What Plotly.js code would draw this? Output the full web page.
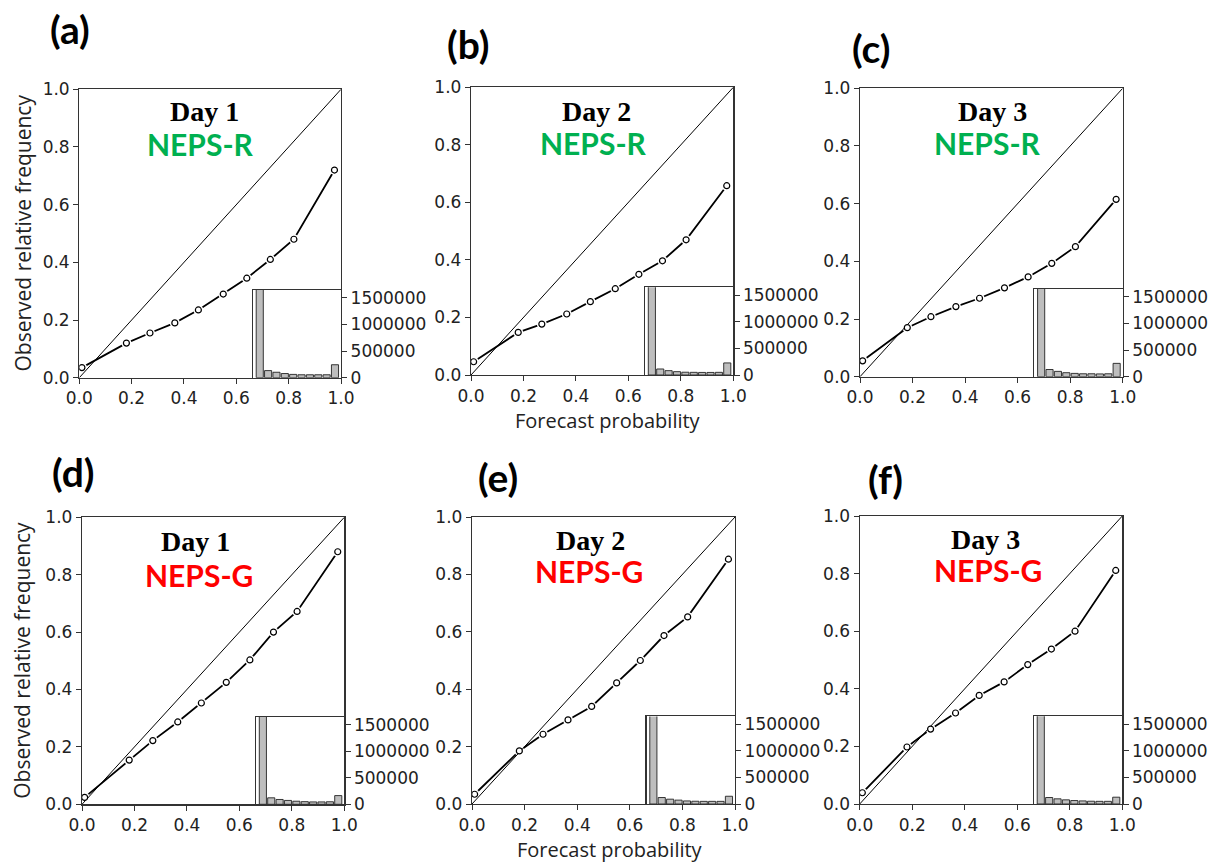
<!DOCTYPE html>
<html>
<head>
<meta charset="utf-8">
<script src="https://cdn.plot.ly/plotly-3.0.1.min.js"></script>
<style>
  html, body { margin: 0; padding: 0; background: #ffffff; }
  #chart { width: 1215px; height: 863px; }
</style>
</head>
<body>
<div id="chart"></div>
<script>
// Reliability diagrams: observed relative frequency vs forecast probability,
// with a forecast-count histogram inset for each panel.

const forecastProb = [0.01, 0.18, 0.27, 0.365, 0.455, 0.55, 0.64, 0.73, 0.82, 0.975];

const obsFreqRDay1 = [0.035, 0.12, 0.155, 0.19, 0.235, 0.29, 0.345, 0.41, 0.48, 0.72];
const obsFreqRDay2 = [0.046, 0.148, 0.177, 0.212, 0.255, 0.30, 0.35, 0.397, 0.47, 0.658];
const obsFreqRDay3 = [0.055, 0.17, 0.208, 0.243, 0.272, 0.308, 0.346, 0.393, 0.451, 0.615];
const obsFreqGDay1 = [0.024, 0.154, 0.222, 0.287, 0.353, 0.425, 0.503, 0.60, 0.672, 0.88];
const obsFreqGDay2 = [0.034, 0.185, 0.243, 0.293, 0.34, 0.422, 0.50, 0.587, 0.652, 0.853];
const obsFreqGDay3 = [0.039, 0.198, 0.26, 0.316, 0.377, 0.424, 0.484, 0.538, 0.60, 0.811];

const histBins = [1, 2, 3, 4, 5, 6, 7, 8, 9, 10];
const countsRDay1 = [1700000, 133000, 102000, 78000, 62000, 55000, 55000, 55000, 55000, 243000];
const countsRDay2 = [1700000, 113000, 82000, 63000, 52000, 50000, 48000, 48000, 50000, 227000];
const countsRDay3 = [1700000, 135000, 100000, 75000, 62000, 55000, 55000, 52000, 55000, 250000];
const countsGDay1 = [1700000, 122000, 91000, 73000, 58000, 50000, 45000, 45000, 48000, 164000];
const countsGDay2 = [1700000, 122000, 91000, 73000, 58000, 52000, 50000, 50000, 50000, 146000];
const countsGDay3 = [1700000, 122000, 97000, 78000, 65000, 58000, 52000, 50000, 50000, 128000];

const perfectLine = [0, 1];
const probTicks = [0, 0.2, 0.4, 0.6, 0.8, 1.0];
const countTicks = [0, 500000, 1000000, 1500000];

const panelLetters = ['(a)', '(b)', '(c)', '(d)', '(e)', '(f)'];
const dayLabels = ['Day 1', 'Day 2', 'Day 3', 'Day 1', 'Day 2', 'Day 3'];
const modelLabels = ['NEPS-R', 'NEPS-R', 'NEPS-R', 'NEPS-G', 'NEPS-G', 'NEPS-G'];
const xTitle = 'Forecast probability';
const yTitle = 'Observed relative frequency';

const obsSeries = [obsFreqRDay1, obsFreqRDay2, obsFreqRDay3, obsFreqGDay1, obsFreqGDay2, obsFreqGDay3];
const countSeries = [countsRDay1, countsRDay2, countsRDay3, countsGDay1, countsGDay2, countsGDay3];

// ---- page geometry (pixels) ----
const W = 1215, H = 863;
// [left, right, top, bottom] of each main plot area
const boxes = [
  [79.3, 341.0, 89.3, 377.7],
  [471.0, 733.3, 87.3, 375.0],
  [860.0, 1122.7, 88.3, 376.7],
  [82.0, 344.3, 517.3, 804.3],
  [472.0, 735.0, 517.0, 804.0],
  [859.7, 1122.3, 516.0, 804.0]
];
const insetLeftFrac = 0.664;
const insetTopFrac = 0.305;

const letterPos = [[70, 29], [468, 44], [871, 48], [73, 472], [498, 477], [885, 479]];
const dayPos = [[204, 111], [596, 111], [992, 111], [195, 541], [590, 540], [985, 539]];
const modelPos = [[200, 144], [593, 143], [987, 143], [199, 575], [589, 571], [988, 569.5]];
const modelColors = ['#00B050', '#00B050', '#00B050', '#FF0000', '#FF0000', '#FF0000'];

const px = v => v / W;
const py = v => 1 - v / H;

const axisColor = '#333333';
const tickFont = { family: 'DejaVu Sans', size: 17, color: '#222222' };

const traces = [];
const layout = {
  width: W, height: H,
  margin: { l: 0, r: 0, t: 0, b: 0 },
  paper_bgcolor: '#ffffff',
  plot_bgcolor: 'rgba(0,0,0,0)',
  showlegend: false,
  bargap: 0,
  annotations: []
};

boxes.forEach((b, i) => {
  const [l, r, t, btm] = b;
  const mainN = 2 * i + 1, insetN = 2 * i + 2;
  const mx = mainN === 1 ? 'x' : 'x' + mainN;
  const my = mainN === 1 ? 'y' : 'y' + mainN;
  const ix = 'x' + insetN, iy = 'y' + insetN;
  const mxKey = mainN === 1 ? 'xaxis' : 'xaxis' + mainN;
  const myKey = mainN === 1 ? 'yaxis' : 'yaxis' + mainN;

  const xDom = [px(l), px(r)];
  const yDom = [py(btm), py(t)];
  const insetL = l + insetLeftFrac * (r - l);
  const insetT = btm - insetTopFrac * (btm - t);

  const mainAxis = {
    range: [0, 1],
    tickvals: probTicks,
    tickformat: '.1f',
    ticks: 'outside', ticklen: 5, tickwidth: 1, tickcolor: axisColor,
    showline: true, mirror: true, linecolor: axisColor, linewidth: 1.2,
    showgrid: false, zeroline: false,
    tickfont: tickFont,
    fixedrange: true
  };
  layout[mxKey] = Object.assign({}, mainAxis, { domain: xDom, anchor: my });
  layout[myKey] = Object.assign({}, mainAxis, { domain: yDom, anchor: mx });

  layout['xaxis' + insetN] = {
    domain: [px(insetL), px(r)], anchor: iy,
    range: [0.2, 10.72],
    showline: true, mirror: true, linecolor: axisColor, linewidth: 1.2,
    showticklabels: false, ticks: '', showgrid: false, zeroline: false,
    fixedrange: true
  };
  layout['yaxis' + insetN] = {
    domain: [py(btm), py(insetT)], anchor: ix, side: 'right',
    range: [0, 1650000],
    tickvals: countTicks, tickformat: 'd',
    ticks: 'outside', ticklen: 5, tickwidth: 1, tickcolor: axisColor,
    showline: true, mirror: true, linecolor: axisColor, linewidth: 1.2,
    showgrid: false, zeroline: false,
    tickfont: tickFont,
    fixedrange: true
  };

  // forecast-count histogram
  traces.push({
    type: 'bar', x: histBins, y: countSeries[i], xaxis: ix, yaxis: iy,
    width: 0.85,
    marker: { color: '#BEBEBE', line: { color: '#222222', width: 0.9 } },
    hoverinfo: 'skip'
  });

  // reliability curve
  traces.push({
    type: 'scatter', mode: 'lines', x: forecastProb, y: obsSeries[i],
    xaxis: mx, yaxis: my,
    line: { color: '#000000', width: 1.8 }, hoverinfo: 'skip'
  });
  // white halos leave small gaps in the curve around each point
  traces.push({
    type: 'scatter', mode: 'markers', x: forecastProb, y: obsSeries[i],
    xaxis: mx, yaxis: my,
    marker: { color: '#ffffff', size: 10, line: { width: 0 } }, hoverinfo: 'skip'
  });
  // perfect reliability diagonal
  traces.push({
    type: 'scatter', mode: 'lines', x: perfectLine, y: perfectLine,
    xaxis: mx, yaxis: my,
    line: { color: '#000000', width: 1 }, hoverinfo: 'skip'
  });
  // open circle markers
  traces.push({
    type: 'scatter', mode: 'markers', x: forecastProb, y: obsSeries[i],
    xaxis: mx, yaxis: my,
    marker: { color: '#ffffff', size: 6, line: { color: '#000000', width: 1.2 } },
    hoverinfo: 'skip'
  });

  // labels
  layout.annotations.push({
    xref: 'paper', yref: 'paper', x: px(letterPos[i][0]), y: py(letterPos[i][1]),
    xanchor: 'center', yanchor: 'middle', showarrow: false,
    text: '<b>' + panelLetters[i] + '</b>',
    font: { family: 'Lato', size: 39, color: '#000000' }
  });
  layout.annotations.push({
    xref: 'paper', yref: 'paper', x: px(dayPos[i][0]), y: py(dayPos[i][1]),
    xanchor: 'center', yanchor: 'middle', showarrow: false,
    text: '<b>' + dayLabels[i] + '</b>',
    font: { family: 'Liberation Serif', size: 28, color: '#000000' }
  });
  layout.annotations.push({
    xref: 'paper', yref: 'paper', x: px(modelPos[i][0]), y: py(modelPos[i][1]),
    xanchor: 'center', yanchor: 'middle', showarrow: false,
    text: '<b>' + modelLabels[i] + '</b>',
    font: { family: 'Lato', size: 30, color: modelColors[i] }
  });

  if (i === 0 || i === 3) {
    layout.annotations.push({
      xref: 'paper', yref: 'paper', x: px(22), y: py((t + btm) / 2),
      xanchor: 'center', yanchor: 'middle', showarrow: false, textangle: -90,
      text: yTitle,
      font: { family: 'Open Sans', size: 21, color: '#222222' }
    });
  }
  if (i === 1 || i === 4) {
    layout.annotations.push({
      xref: 'paper', yref: 'paper', x: px((l + r) / 2 + 6), y: py(btm + 45),
      xanchor: 'center', yanchor: 'middle', showarrow: false,
      text: xTitle,
      font: { family: 'Open Sans', size: 20, color: '#222222' }
    });
  }
});

Plotly.newPlot('chart', traces, layout, { staticPlot: true, displayModeBar: false });
</script>
</body>
</html>
